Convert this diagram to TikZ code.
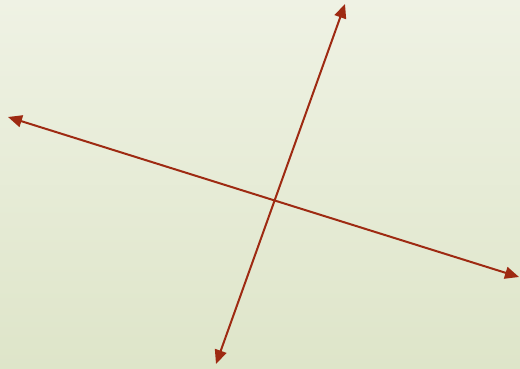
\documentclass[tikz,border=0pt]{standalone}
\usepackage{tikz}
\usetikzlibrary{arrows.meta}
\definecolor{bgtop}{RGB}{239,242,228}
\definecolor{bgbot}{RGB}{222,229,201}
\definecolor{axisred}{RGB}{158,42,18}
\tikzset{
  axisarr/.style={{Triangle[length=14pt,width=12pt]}-{Triangle[length=14pt,width=12pt]},
                  line width=2pt, draw=axisred, fill=axisred},
}
\begin{document}
\begin{tikzpicture}[x=1pt,y=-1pt]
  % background
  \shade[top color=bgtop, bottom color=bgbot] (0,0) rectangle (520,369);
  \useasboundingbox (0,0) rectangle (520,369);
  % end points
  \coordinate (left)   at (8,117);
  \coordinate (right)  at (519,277);
  \coordinate (top)    at (345,4);
  \coordinate (bottom) at (216,364);
  \draw[axisarr] (left) -- (right);
  \draw[axisarr] (bottom) -- (top);
\end{tikzpicture}
\end{document}
